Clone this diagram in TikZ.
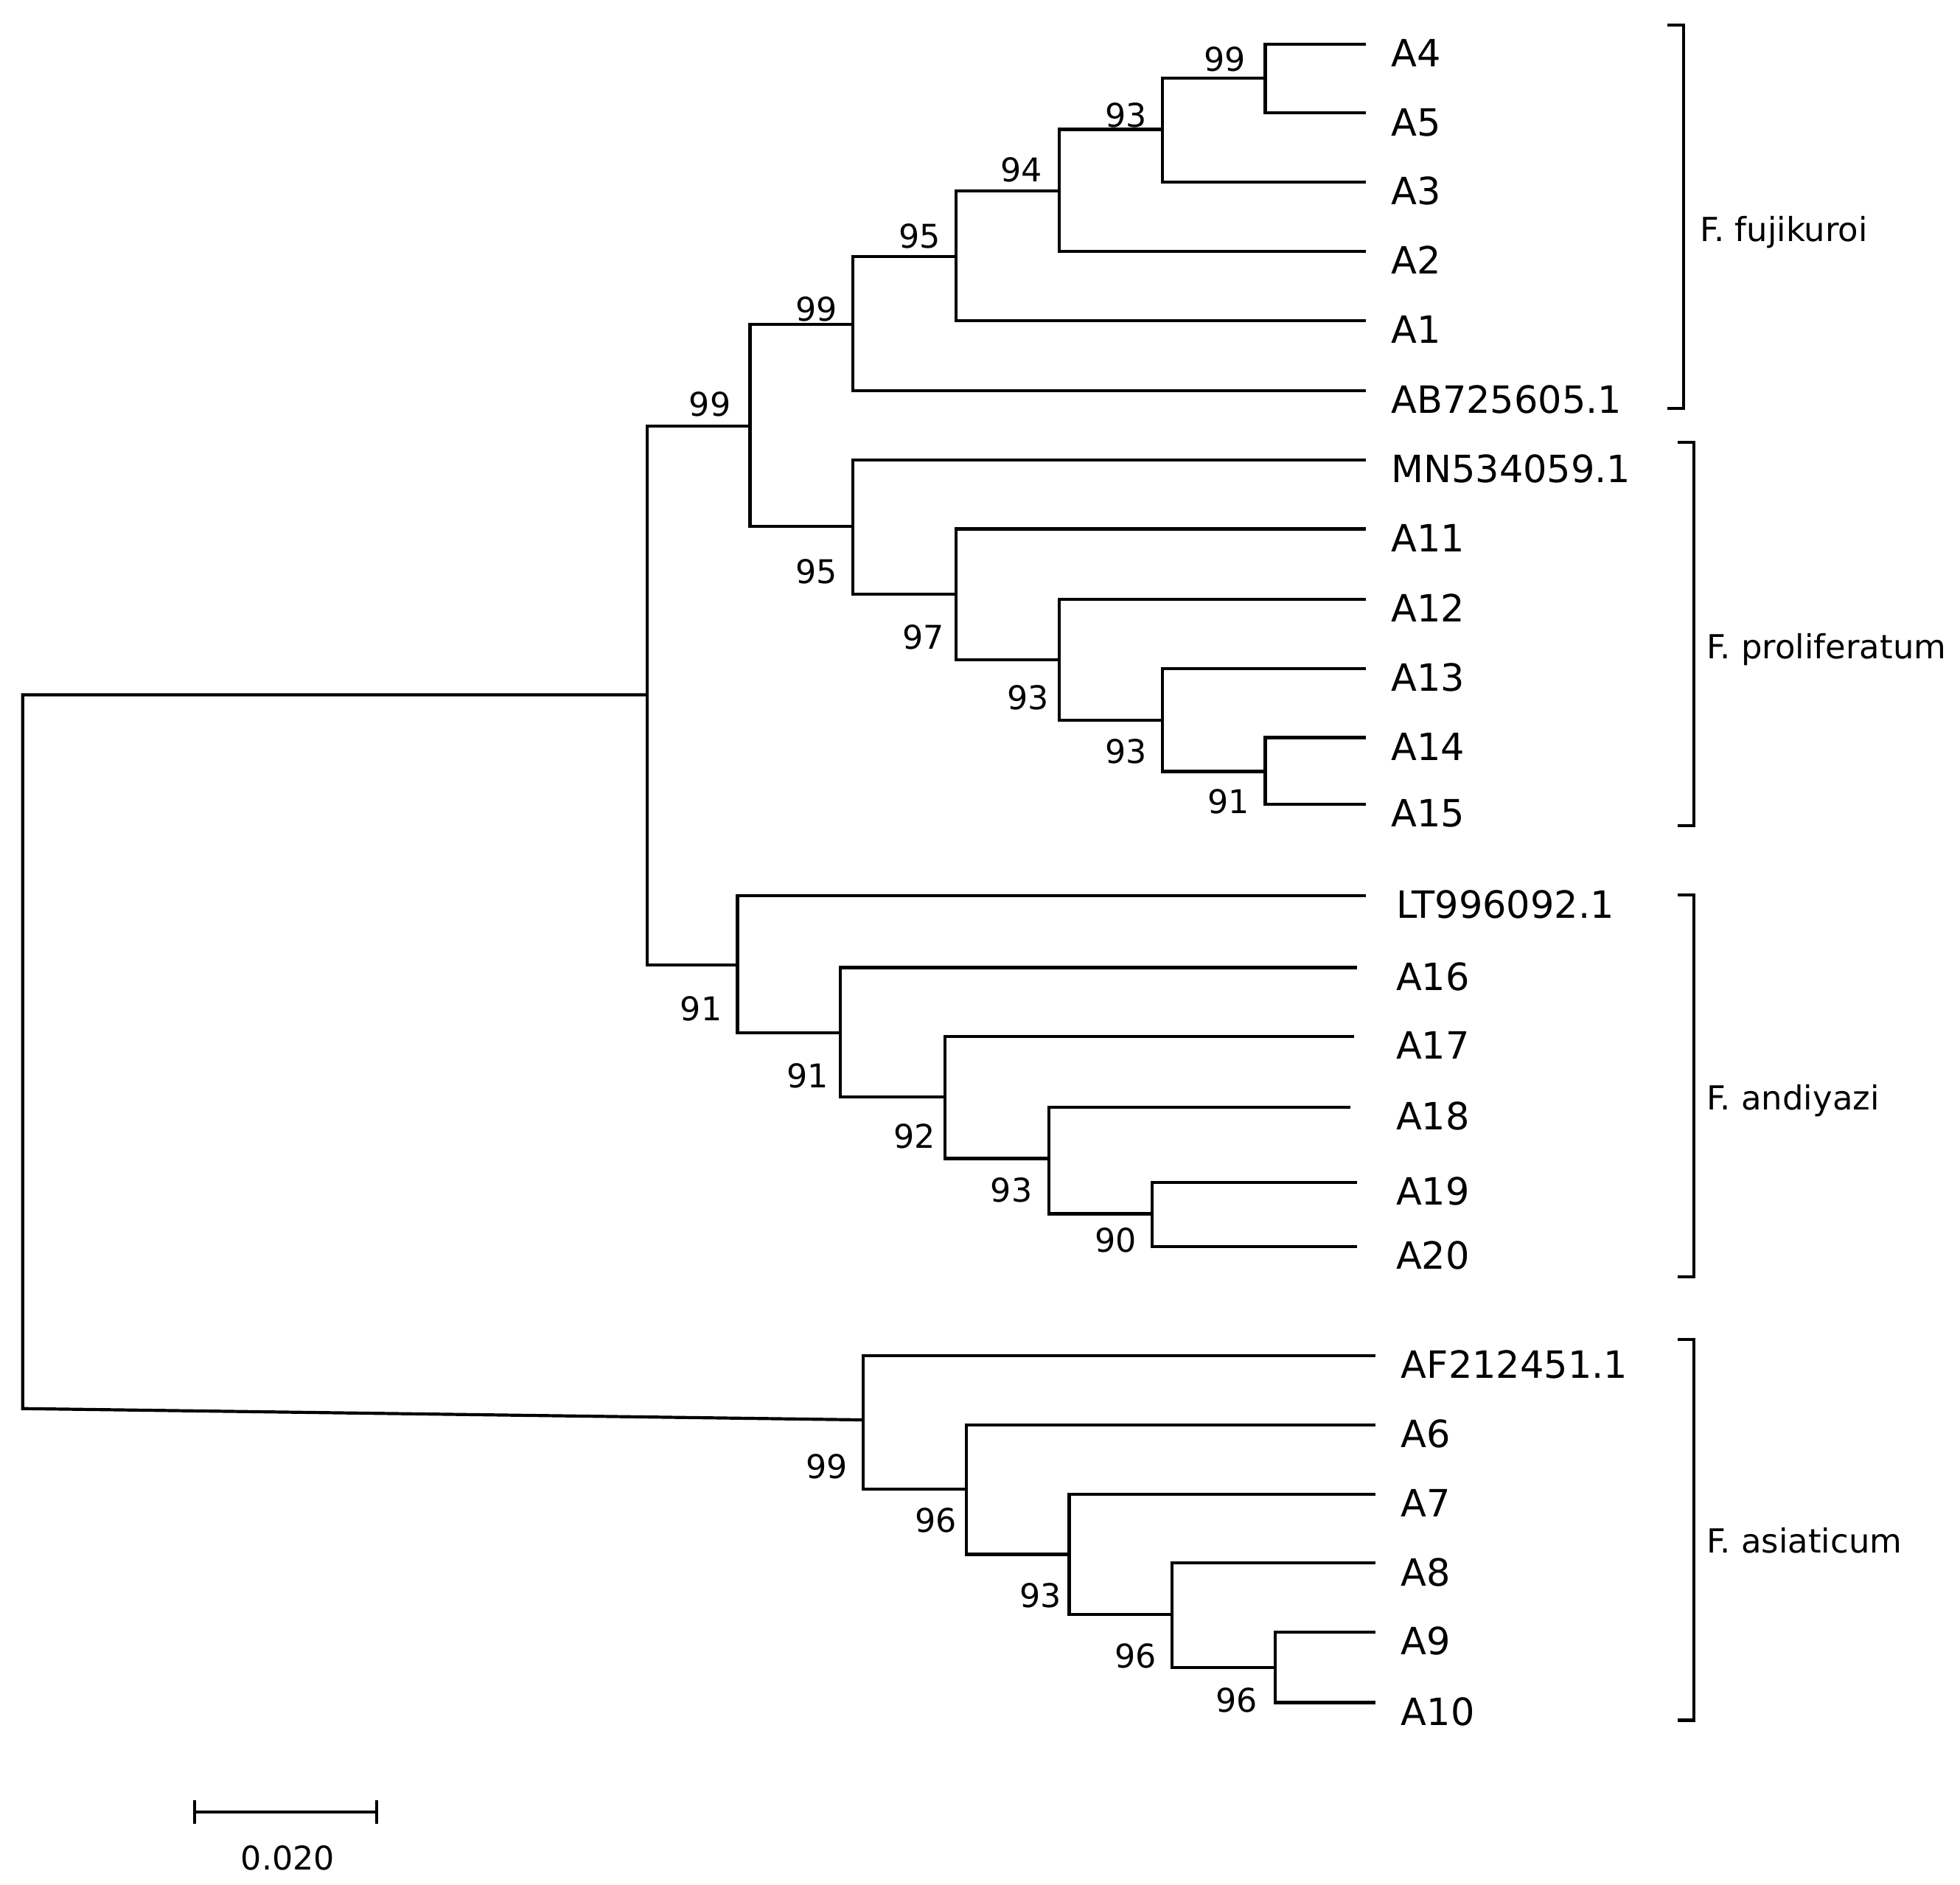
\documentclass[tikz,border=0pt]{standalone}
\usepackage{fontspec}
\setmainfont{DejaVu Sans}
\usepackage{tikz}
\usetikzlibrary{positioning}

\begin{document}
\begin{tikzpicture}[x=0.01cm, y=-0.01cm, line width=0.7pt]
\tikzstyle{leaf} = [anchor=base west, inner sep=0pt, font=\fontsize{8.5}{10}\selectfont]
\tikzstyle{boot} = [inner sep=0pt, font=\fontsize{7.4}{9}\selectfont]
\tikzstyle{clade} = [anchor=base west, inner sep=0pt, font=\fontsize{7.5}{9}\selectfont]
\useasboundingbox (0,0) rectangle (1560,1500);
% leaf tips
\coordinate (tA4) at (1087,35);
\coordinate (tA5) at (1087,90);
\coordinate (tA3) at (1087,145);
\coordinate (tA2) at (1087,200);
\coordinate (tA1) at (1087,255);
\coordinate (tAB) at (1087,311);
\coordinate (tMN) at (1087,366);
\coordinate (tA11) at (1087,421);
\coordinate (tA12) at (1087,477);
\coordinate (tA13) at (1087,532);
\coordinate (tA14) at (1087,587);
\coordinate (tA15) at (1087,640);
\coordinate (tLT) at (1087,713);
\coordinate (tA16) at (1080,770);
\coordinate (tA17) at (1078,825);
\coordinate (tA18) at (1075,881);
\coordinate (tA19) at (1080,941);
\coordinate (tA20) at (1080,992);
\coordinate (tAF) at (1095,1079);
\coordinate (tA6) at (1095,1134);
\coordinate (tA7) at (1095,1189);
\coordinate (tA8) at (1095,1244);
\coordinate (tA9) at (1095,1299);
\coordinate (tA10) at (1095,1355);
% leaf labels
\node (A4) [leaf] at (1106,53) {A4};
\node (A5) [leaf] at (1106,108) {A5};
\node (A3) [leaf] at (1106,163) {A3};
\node (A2) [leaf] at (1106,218) {A2};
\node (A1) [leaf] at (1106,273) {A1};
\node (AB) [leaf] at (1106,329) {AB725605.1};
\node (MN) [leaf] at (1106,384) {MN534059.1};
\node (A11) [leaf] at (1106,439) {A11};
\node (A12) [leaf] at (1106,495) {A12};
\node (A13) [leaf] at (1106,550) {A13};
\node (A14) [leaf] at (1106,605) {A14};
\node (A15) [leaf] at (1106,658) {A15};
\node (LT) [leaf] at (1110,731) {LT996092.1};
\node (A16) [leaf] at (1110,788) {A16};
\node (A17) [leaf] at (1110,843) {A17};
\node (A18) [leaf] at (1110,899) {A18};
\node (A19) [leaf] at (1110,959) {A19};
\node (A20) [leaf] at (1110,1010) {A20};
\node (AF) [leaf] at (1114,1097) {AF212451.1};
\node (A6) [leaf] at (1114,1152) {A6};
\node (A7) [leaf] at (1114,1207) {A7};
\node (A8) [leaf] at (1114,1262) {A8};
\node (A9) [leaf] at (1114,1317) {A9};
\node (A10) [leaf] at (1114,1373) {A10};
% internal nodes
\coordinate (nA45) at (1007,62);
\coordinate (nA3) at (925,103);
\coordinate (nA2) at (843,152);
\coordinate (nA1) at (761,204);
\coordinate (nAB) at (679,258);
\coordinate (nFP) at (597,339);
\coordinate (nA1415) at (1007,614);
\coordinate (nA13) at (925,573);
\coordinate (nA12) at (843,525);
\coordinate (nA11) at (761,473);
\coordinate (nMN) at (679,419);
\coordinate (nA1920) at (917,966);
\coordinate (nA18) at (835,922);
\coordinate (nA17) at (752,873);
\coordinate (nA16) at (669,822);
\coordinate (nLT) at (587,768);
\coordinate (nA910) at (1015,1327);
\coordinate (nA8) at (933,1285);
\coordinate (nA7) at (851,1237);
\coordinate (nA6) at (769,1185);
\coordinate (nAF) at (687,1130);
\coordinate (nTop) at (515,553);
\coordinate (rootT) at (18,553);
\coordinate (rootB) at (18,1121);
% branches
\draw (nA45) |- (tA4);
\draw (nA45) |- (tA5);
\draw (nA3) |- (nA45);
\draw (nA3) |- (tA3);
\draw (nA2) |- (nA3);
\draw (nA2) |- (tA2);
\draw (nA1) |- (nA2);
\draw (nA1) |- (tA1);
\draw (nAB) |- (nA1);
\draw (nAB) |- (tAB);
\draw (nFP) |- (nAB);
\draw (nFP) |- (nMN);
\draw (nMN) |- (tMN);
\draw (nMN) |- (nA11);
\draw (nA11) |- (tA11);
\draw (nA11) |- (nA12);
\draw (nA12) |- (tA12);
\draw (nA12) |- (nA13);
\draw (nA13) |- (tA13);
\draw (nA13) |- (nA1415);
\draw (nA1415) |- (tA14);
\draw (nA1415) |- (tA15);
\draw (nTop) |- (nFP);
\draw (nTop) |- (nLT);
\draw (nLT) |- (tLT);
\draw (nLT) |- (nA16);
\draw (nA16) |- (tA16);
\draw (nA16) |- (nA17);
\draw (nA17) |- (tA17);
\draw (nA17) |- (nA18);
\draw (nA18) |- (tA18);
\draw (nA18) |- (nA1920);
\draw (nA1920) |- (tA19);
\draw (nA1920) |- (tA20);
\draw (nAF) |- (tAF);
\draw (nAF) |- (nA6);
\draw (nA6) |- (tA6);
\draw (nA6) |- (nA7);
\draw (nA7) |- (tA7);
\draw (nA7) |- (nA8);
\draw (nA8) |- (tA8);
\draw (nA8) |- (nA910);
\draw (nA910) |- (tA9);
\draw (nA910) |- (tA10);
\draw (nTop) -- (rootT) -- (rootB) -- (nAF);
% bootstrap values
\node (b1) [boot] at (975,47) {99};
\node (b2) [boot] at (896,92) {93};
\node (b3) [boot] at (813,135) {94};
\node (b4) [boot] at (732,188) {95};
\node (b5) [boot] at (650,246) {99};
\node (b6) [boot] at (565,322) {99};
\node (b7) [boot] at (650,455) {95};
\node (b8) [boot] at (735,507) {97};
\node (b9) [boot] at (818,555) {93};
\node (b10) [boot] at (896,598) {93};
\node (b11) [boot] at (978,638) {91};
\node (b12) [boot] at (558,803) {91};
\node (b13) [boot] at (643,856) {91};
\node (b14) [boot] at (728,904) {92};
\node (b15) [boot] at (805,947) {93};
\node (b16) [boot] at (888,987) {90};
\node (b17) [boot] at (658,1167) {99};
\node (b18) [boot] at (745,1210) {96};
\node (b19) [boot] at (828,1270) {93};
\node (b20) [boot] at (904,1318) {96};
\node (b21) [boot] at (984,1353) {96};
% clade brackets
\draw (1327,20) -- (1340,20) -- (1340,325) -- (1327,325);
\draw (1335,352) -- (1348,352) -- (1348,657) -- (1335,657);
\draw (1335,712) -- (1348,712) -- (1348,1016) -- (1335,1016);
\draw (1335,1066) -- (1348,1066) -- (1348,1369) -- (1335,1369);
\node (fuji) [clade] at (1352,192) {F. fujikuroi};
\node (prol) [clade] at (1357,524) {F. proliferatum};
\node (andi) [clade] at (1357,883) {F. andiyazi};
\node (asia) [clade] at (1357,1236) {F. asiaticum};
% scale bar
\coordinate (sbL) at (155,1442);
\coordinate (sbR) at (300,1442);
\draw (sbL) -- (sbR);
\draw ([yshift=0.095cm]sbL) -- ([yshift=-0.095cm]sbL);
\draw ([yshift=0.095cm]sbR) -- ([yshift=-0.095cm]sbR);
\node (sblabel) [boot, anchor=base] at (229,1488) {0.020};
\end{tikzpicture}
\end{document}
